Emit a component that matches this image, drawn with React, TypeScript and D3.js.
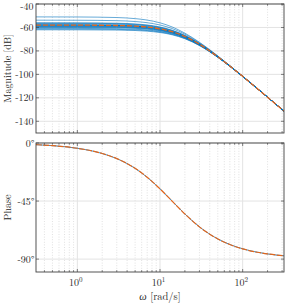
import React from "react";
import * as d3 from "d3";

// ---------- data ----------
const FREQ = [0.3162, 1, 3, 5, 7, 10, 14, 20, 30, 40, 50, 70, 100, 150, 200, 316.2];
const NOMINAL_MAG = [-58.0, -58.04, -58.32, -58.87, -59.66, -61.19, -63.65, -67.72, -74.3, -80.05, -84.97, -92.9, -101.7, -112.05, -119.46, -131.3];
const BLUE_1 = [-51.0, -51.06, -51.55, -52.46, -53.72, -56.05, -59.56, -64.85, -72.64, -79.0, -84.26, -92.6, -101.5, -112.0, -119.4, -131.3];
const BLUE_2 = [-53.8, -53.85, -54.22, -54.94, -55.96, -57.9, -60.93, -65.73, -73.1, -79.28, -84.44, -92.61, -101.6, -112.0, -119.45, -131.3];
const BLUE_3 = [-56.0, -56.05, -56.37, -57.0, -57.9, -59.62, -62.35, -66.77, -73.73, -79.68, -84.72, -92.76, -101.65, -112.03, -119.45, -131.3];
const BLUE_4 = [-56.4, -56.44, -56.76, -57.37, -58.25, -59.94, -62.61, -66.96, -73.84, -79.76, -84.77, -92.79, -101.66, -112.04, -119.45, -131.3];
const BLUE_5 = [-56.8, -56.84, -57.15, -57.75, -58.6, -60.25, -62.87, -67.15, -73.96, -79.83, -84.82, -92.82, -101.67, -112.04, -119.46, -131.3];
const BLUE_6 = [-57.5, -57.54, -57.83, -58.4, -59.22, -60.8, -63.33, -67.48, -74.16, -79.96, -84.91, -92.87, -101.69, -112.05, -119.46, -131.3];
const BLUE_7 = [-58.5, -58.54, -58.81, -59.34, -60.1, -61.58, -63.97, -67.96, -74.44, -80.14, -85.03, -92.93, -101.71, -112.05, -119.46, -131.3];
const BLUE_8 = [-58.9, -58.94, -59.2, -59.71, -60.45, -61.89, -64.23, -68.15, -74.56, -80.22, -85.08, -92.96, -101.72, -112.06, -119.46, -131.3];
const BLUE_9 = [-59.2, -59.24, -59.49, -59.99, -60.72, -62.13, -64.43, -68.29, -74.64, -80.27, -85.12, -92.98, -101.73, -112.06, -119.47, -131.3];
const BLUE_10 = [-59.6, -59.64, -59.88, -60.37, -61.07, -62.44, -64.69, -68.48, -74.76, -80.34, -85.17, -93.01, -101.74, -112.06, -119.47, -131.3];
const BLUE_11 = [-60.0, -60.03, -60.27, -60.74, -61.42, -62.76, -64.95, -68.67, -74.87, -80.42, -85.22, -93.04, -101.75, -112.07, -119.47, -131.3];
const BLUE_12 = [-60.8, -60.83, -61.05, -61.49, -62.12, -63.38, -65.46, -69.05, -75.1, -80.57, -85.32, -93.09, -101.77, -112.08, -119.48, -131.3];
const BLUE_13 = [-61.4, -61.43, -61.64, -62.05, -62.65, -63.85, -65.85, -69.33, -75.27, -80.68, -85.4, -93.13, -101.78, -112.09, -119.49, -131.3];
const BLUE_14 = [-62.0, -62.03, -62.22, -62.61, -63.18, -64.32, -66.24, -69.62, -75.44, -80.79, -85.47, -93.18, -101.8, -112.1, -119.5, -131.3];
const BLUE_LINES = [BLUE_1, BLUE_2, BLUE_3, BLUE_4, BLUE_5, BLUE_6, BLUE_7, BLUE_8, BLUE_9, BLUE_10, BLUE_11, BLUE_12, BLUE_13, BLUE_14];

const PHASE_FREQ = [0.3162, 0.5, 1, 2, 3, 5, 7, 10, 14, 20, 30, 50, 70, 100, 150, 200, 316.2];
const NOMINAL_PHASE = [-1.3, -2.05, -4.09, -8.13, -12.1, -19.65, -26.57, -35.54, -45, -55.0, -65.0, -74.36, -78.69, -82.03, -84.67, -86.0, -87.46];

const MAG_TICKS = [-140, -120, -100, -80, -60, -40];
const PHASE_TICKS = [-90, -45, 0];
const DECADES = [0, 1, 2];

// ---------- layout ----------
const W = 285;
const H = 304;
const X0 = 36;
const X1 = 284;
const MAG_TOP = 4;
const MAG_BOT = 133;
const PH_TOP = 143;
const PH_BOT = 272;

const FONT = "'Latin Modern Roman', 'CMU Serif', 'Liberation Serif', serif";
const TEXT = "#262626";
const BLUE = "#0072BD";
const ORANGE = "#E2661C";

export default function App() {
  const x = d3.scaleLog().domain([Math.pow(10, -0.5), Math.pow(10, 2.5)]).range([X0, X1]);
  const yMag = d3.scaleLinear().domain([-150, -40]).range([MAG_BOT, MAG_TOP]);
  const yPh = d3.scaleLinear().domain([-100, 0]).range([PH_BOT, PH_TOP]);

  const magLine = d3
    .line<number>()
    .x((_, i) => x(FREQ[i]))
    .y((d) => yMag(d))
    .curve(d3.curveMonotoneX);
  const phLine = d3
    .line<number>()
    .x((_, i) => x(PHASE_FREQ[i]))
    .y((d) => yPh(d))
    .curve(d3.curveMonotoneX);

  const [lo, hi] = x.domain();
  const minor: number[] = [];
  for (let e = -1; e <= 2; e++) {
    for (let m = 2; m <= 9; m++) {
      const v = m * Math.pow(10, e);
      if (v > lo && v < hi) minor.push(v);
    }
  }
  const major = DECADES.map((e) => Math.pow(10, e));

  const panel = (top: number, bot: number, yScale: any, yTicks: number[], key: string) => (
    <g key={key}>
      {minor.map((v) => (
        <line key={"mg" + v} x1={x(v)} x2={x(v)} y1={top} y2={bot} stroke="#d4d4d4" strokeWidth={0.7} strokeDasharray="1,1.6" />
      ))}
      {major.map((v) => (
        <line key={"Mg" + v} x1={x(v)} x2={x(v)} y1={top} y2={bot} stroke="#e3e3e3" strokeWidth={1} />
      ))}
      {yTicks.map((t) => (
        <line key={"yg" + t} x1={X0} x2={X1} y1={yScale(t)} y2={yScale(t)} stroke="#e3e3e3" strokeWidth={1} />
      ))}
    </g>
  );

  const frame = (top: number, bot: number, yScale: any, yTicks: number[], key: string) => (
    <g key={key}>
      {minor.map((v) => (
        <g key={"mt" + v}>
          <line x1={x(v)} x2={x(v)} y1={bot} y2={bot - 1.8} stroke="#333" strokeWidth={0.6} />
          <line x1={x(v)} x2={x(v)} y1={top} y2={top + 1.8} stroke="#333" strokeWidth={0.6} />
        </g>
      ))}
      {major.map((v) => (
        <g key={"Mt" + v}>
          <line x1={x(v)} x2={x(v)} y1={bot} y2={bot - 3} stroke="#333" strokeWidth={0.6} />
          <line x1={x(v)} x2={x(v)} y1={top} y2={top + 3} stroke="#333" strokeWidth={0.6} />
        </g>
      ))}
      {yTicks.map((t) => (
        <g key={"yt" + t}>
          <line x1={X0} x2={X0 + 3} y1={yScale(t)} y2={yScale(t)} stroke="#333" strokeWidth={0.6} />
          <line x1={X1} x2={X1 - 3} y1={yScale(t)} y2={yScale(t)} stroke="#333" strokeWidth={0.6} />
        </g>
      ))}
      <rect x={X0} y={top} width={X1 - X0} height={bot - top} fill="none" stroke="#404040" strokeWidth={0.9} />
    </g>
  );

  return (
    <svg
      width={W}
      height={H}
      viewBox={`0 0 ${W} ${H}`}
      style={{ position: "absolute", left: 0, top: 0, background: "#fff" }}
      fontFamily={FONT}
    >
      <defs>
        <clipPath id="clipMag">
          <rect x={X0} y={MAG_TOP} width={X1 - X0} height={MAG_BOT - MAG_TOP} />
        </clipPath>
        <clipPath id="clipPh">
          <rect x={X0} y={PH_TOP - 1} width={X1 - X0} height={PH_BOT - PH_TOP + 1} />
        </clipPath>
      </defs>
      <rect x={0} y={0} width={W} height={H} fill="#fff" />

      {panel(MAG_TOP, MAG_BOT, yMag, MAG_TICKS, "pm")}
      {panel(PH_TOP, PH_BOT, yPh, PHASE_TICKS, "pp")}

      <g clipPath="url(#clipMag)">
        {BLUE_LINES.map((ln, i) => (
          <path key={"b" + i} d={magLine(ln) || ""} fill="none" stroke={BLUE} strokeWidth={0.6} />
        ))}
        <path d={magLine(NOMINAL_MAG) || ""} fill="none" stroke={BLUE} strokeWidth={1} />
        <path d={magLine(NOMINAL_MAG) || ""} fill="none" stroke={ORANGE} strokeWidth={1.3} strokeDasharray="5,2" />
      </g>

      <g clipPath="url(#clipPh)">
        <path d={phLine(NOMINAL_PHASE) || ""} fill="none" stroke={BLUE} strokeWidth={0.8} />
        <path d={phLine(NOMINAL_PHASE) || ""} fill="none" stroke={ORANGE} strokeWidth={1.2} strokeDasharray="6,1.2" />
      </g>

      {frame(MAG_TOP, MAG_BOT, yMag, MAG_TICKS, "fm")}
      {frame(PH_TOP, PH_BOT, yPh, PHASE_TICKS, "fp")}

      {MAG_TICKS.map((t) => (
        <text key={"ml" + t} x={33.5} y={Math.max(yMag(t), 6.5)} dy="0.35em" textAnchor="end" fontSize={10} fill={TEXT}>
          {t}
        </text>
      ))}
      {PHASE_TICKS.map((t) => (
        <text key={"pl" + t} x={34.5} y={yPh(t)} dy="0.35em" textAnchor="end" fontSize={10} fill={TEXT}>
          {t + "°"}
        </text>
      ))}

      {DECADES.map((e) => (
        <text key={"xl" + e} x={x(Math.pow(10, e)) - 1.5} y={286} textAnchor="middle" fontSize={10} fill={TEXT}>
          10
          <tspan dy={-4} fontSize={7}>
            {e}
          </tspan>
        </text>
      ))}

      <text x={(X0 + X1) / 2} y={300} textAnchor="middle" fontSize={10.5} fill={TEXT}>
        <tspan fontStyle="italic">ω</tspan> [rad/s]
      </text>
      <text
        transform={`translate(10.5,${(MAG_TOP + MAG_BOT) / 2}) rotate(-90)`}
        textAnchor="middle"
        fontSize={10}
        fill={TEXT}
      >
        Magnitude [dB]
      </text>
      <text
        transform={`translate(10.5,${(PH_TOP + PH_BOT) / 2}) rotate(-90)`}
        textAnchor="middle"
        fontSize={10}
        fill={TEXT}
      >
        Phase
      </text>
    </svg>
  );
}
